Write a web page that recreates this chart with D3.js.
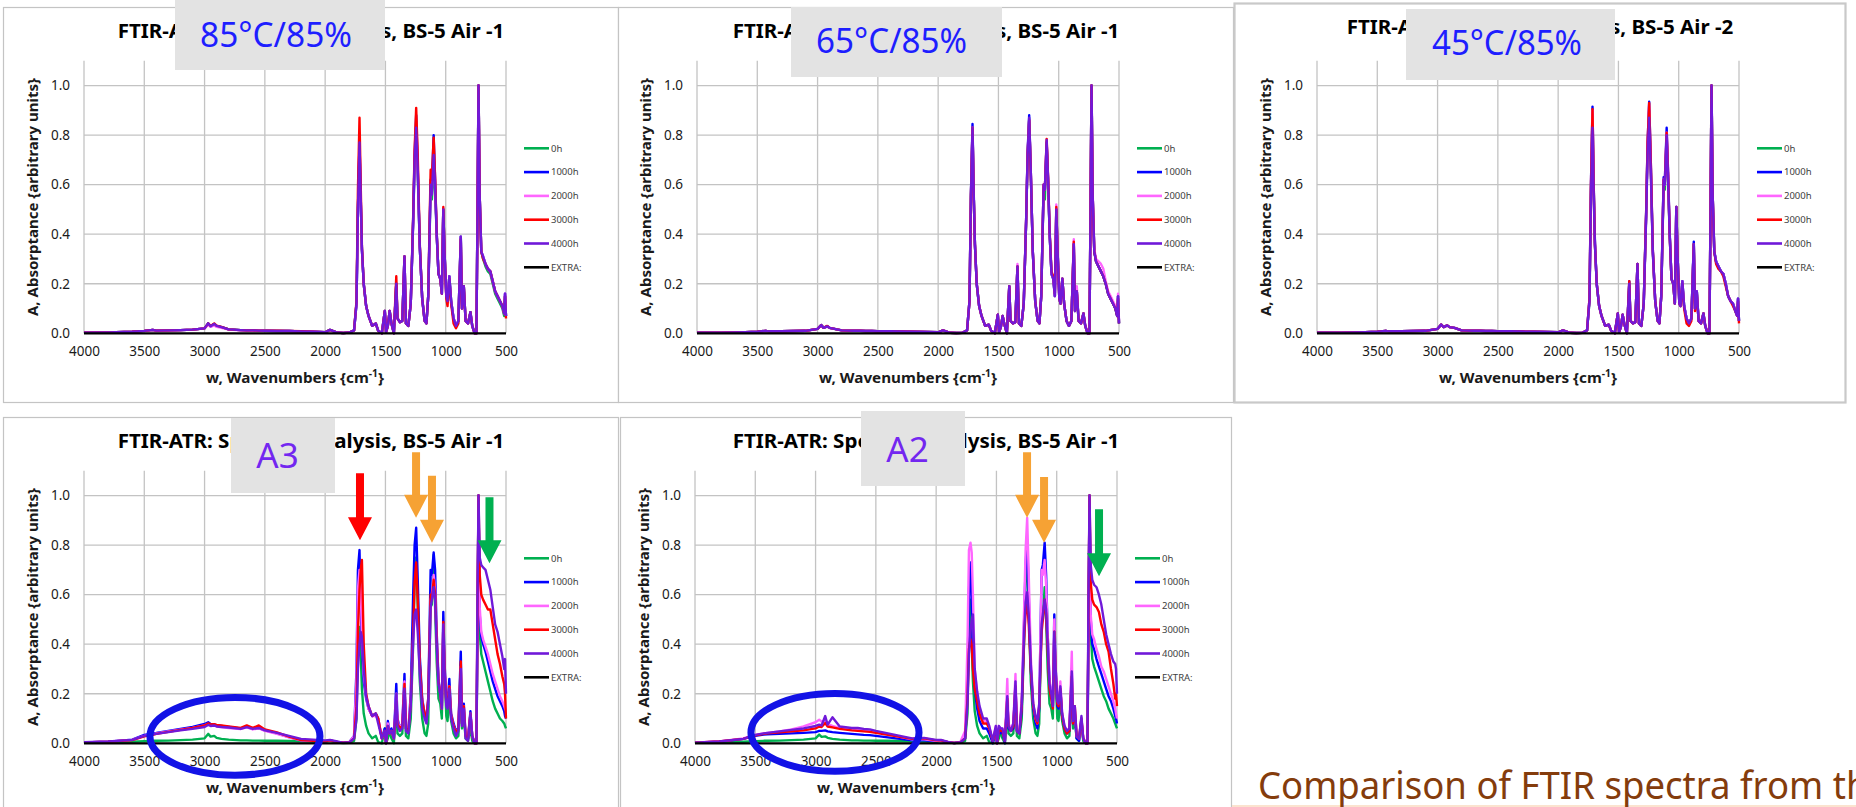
<!DOCTYPE html>
<html><head><meta charset="utf-8">
<script src="https://cdn.jsdelivr.net/npm/d3@7"></script>
<style>html,body{margin:0;padding:0;background:#fff;overflow:hidden}</style>
</head><body>
<svg id="c" width="1856" height="807"></svg>
<script>
// ---------------- DATA ----------------
const wavenumbers = [
4000,3800,3600,3500,3430,3400,3300,3200,3100,3000,2970,2950,2920,2900,2860,2800,2700,2650,2600,2550,2500,2400,2300,2200,2100,2000,1960,1900,1850,
1800,1760,1740,1728,1715,1705,1695,1680,1660,1640,1610,1580,1560,1530,1505,1495,1480,1465,1450,1430,
1410,1400,1380,1360,1342,1330,1310,1290,1270,1258,1245,1232,1215,1195,1175,1160,1145,1125,1115,1100,
1088,1075,1060,1045,1032,1020,1010,995,985,970,955,935,915,895,875,865,850,835,815,795,
780,760,745,737,728,718,705,690,670,650,630,610,590,570,550,530,515,508,500];

const seriesNames = ["0h","1000h","2000h","3000h","4000h"];
const extraName = "EXTRA:";
const extraValues = [0, 0];
const extraWavenumbers = [4000, 500];
const xTickValues = [4000,3500,3000,2500,2000,1500,1000,500];
const yTickValues = [0,0.2,0.4,0.6,0.8,1.0];

// 85°C/85%
const p85_0h = [0.002,0.003,0.006,0.010,0.014,0.011,0.012,0.013,0.015,0.020,0.040,0.028,0.038,0.030,0.025,0.016,0.013,0.012,0.012,0.011,0.010,0.009,0.009,0.007,0.006,0.004,0.014,0.003,0.001,
0.003,0.012,0.12,0.50,0.74,0.54,0.34,0.20,0.11,0.07,0.03,0.04,0.01,0.0,0.09,0.005,0.03,0.09,0.04,0.0,
0.20,0.06,0.045,0.05,0.31,0.04,0.03,0.12,0.45,0.68,0.80,0.64,0.35,0.14,0.05,0.04,0.15,0.58,0.54,0.66,
0.58,0.40,0.24,0.22,0.16,0.50,0.33,0.15,0.13,0.23,0.13,0.06,0.03,0.05,0.39,0.10,0.19,0.05,0.04,0.085,
0.03,0.0,0.0,0.45,1.0,0.55,0.33,0.30,0.27,0.25,0.24,0.20,0.16,0.14,0.12,0.10,0.07,0.15,0.07];
const p85_1000h = [0.002,0.003,0.006,0.010,0.014,0.011,0.012,0.013,0.015,0.020,0.040,0.028,0.038,0.030,0.025,0.016,0.013,0.012,0.012,0.011,0.010,0.009,0.009,0.007,0.006,0.004,0.014,0.003,0.001,
0.003,0.012,0.12,0.50,0.77,0.55,0.34,0.20,0.11,0.07,0.03,0.04,0.01,0.0,0.09,0.005,0.03,0.09,0.04,0.0,
0.20,0.06,0.045,0.05,0.31,0.04,0.03,0.12,0.46,0.72,0.88,0.67,0.35,0.14,0.05,0.04,0.15,0.62,0.60,0.80,
0.62,0.41,0.24,0.22,0.16,0.50,0.33,0.15,0.13,0.23,0.13,0.06,0.03,0.05,0.39,0.10,0.19,0.05,0.04,0.085,
0.03,0.0,0.0,0.45,1.0,0.55,0.33,0.31,0.28,0.26,0.25,0.21,0.17,0.15,0.13,0.11,0.08,0.16,0.07];
const p85_2000h = [0.002,0.003,0.006,0.010,0.014,0.011,0.012,0.013,0.015,0.020,0.034,0.026,0.032,0.026,0.022,0.015,0.012,0.012,0.011,0.011,0.010,0.009,0.009,0.007,0.006,0.004,0.013,0.003,0.001,
0.003,0.012,0.12,0.50,0.78,0.55,0.34,0.20,0.11,0.07,0.03,0.04,0.01,0.0,0.09,0.005,0.03,0.09,0.04,0.0,
0.20,0.06,0.045,0.05,0.31,0.04,0.03,0.12,0.45,0.70,0.85,0.66,0.35,0.14,0.05,0.04,0.15,0.60,0.57,0.74,
0.61,0.40,0.24,0.22,0.16,0.50,0.33,0.15,0.13,0.23,0.13,0.06,0.03,0.05,0.39,0.10,0.19,0.05,0.04,0.085,
0.03,0.0,0.0,0.45,1.0,0.55,0.33,0.31,0.28,0.26,0.25,0.21,0.17,0.15,0.13,0.11,0.08,0.16,0.07];
const p85_3000h = [0.002,0.003,0.006,0.010,0.014,0.011,0.012,0.013,0.015,0.020,0.040,0.030,0.040,0.031,0.026,0.016,0.013,0.012,0.012,0.011,0.011,0.010,0.009,0.008,0.006,0.004,0.014,0.003,0.001,
0.003,0.012,0.13,0.58,0.87,0.60,0.35,0.20,0.11,0.07,0.03,0.04,0.01,0.0,0.09,0.005,0.03,0.09,0.04,0.0,
0.23,0.06,0.045,0.05,0.31,0.04,0.03,0.12,0.47,0.74,0.91,0.72,0.36,0.14,0.05,0.04,0.15,0.66,0.62,0.79,
0.63,0.41,0.24,0.22,0.16,0.51,0.33,0.14,0.11,0.22,0.12,0.04,0.02,0.04,0.38,0.10,0.19,0.05,0.04,0.085,
0.03,0.0,0.0,0.45,1.0,0.55,0.33,0.30,0.28,0.26,0.25,0.21,0.17,0.15,0.13,0.11,0.08,0.15,0.06];
const p85_4000h = [0.002,0.003,0.006,0.010,0.014,0.011,0.012,0.013,0.015,0.020,0.040,0.028,0.038,0.030,0.025,0.016,0.013,0.012,0.012,0.011,0.010,0.009,0.009,0.007,0.006,0.004,0.014,0.003,0.001,
0.003,0.012,0.12,0.50,0.77,0.55,0.34,0.20,0.11,0.07,0.03,0.04,0.01,0.0,0.09,0.005,0.03,0.09,0.04,0.0,
0.20,0.06,0.045,0.05,0.31,0.04,0.03,0.12,0.45,0.70,0.83,0.66,0.35,0.14,0.05,0.04,0.15,0.60,0.56,0.72,
0.60,0.40,0.24,0.22,0.16,0.50,0.33,0.15,0.13,0.23,0.13,0.06,0.03,0.05,0.39,0.10,0.19,0.05,0.04,0.085,
0.03,0.0,0.0,0.45,1.0,0.55,0.33,0.31,0.28,0.26,0.25,0.21,0.17,0.15,0.13,0.11,0.08,0.16,0.07];

// 65°C/85%
const p65_0h = [0.002,0.002,0.004,0.006,0.010,0.008,0.008,0.009,0.010,0.018,0.033,0.022,0.028,0.022,0.018,0.012,0.010,0.010,0.009,0.009,0.008,0.008,0.007,0.006,0.005,0.004,0.012,0.002,0.001,
0.002,0.012,0.13,0.55,0.82,0.56,0.36,0.20,0.11,0.07,0.03,0.035,0.01,0.0,0.075,0.005,0.025,0.07,0.035,0.0,
0.19,0.05,0.04,0.045,0.27,0.04,0.03,0.12,0.45,0.71,0.86,0.65,0.33,0.13,0.05,0.04,0.15,0.58,0.54,0.76,
0.61,0.40,0.24,0.22,0.15,0.50,0.34,0.14,0.12,0.22,0.12,0.05,0.03,0.05,0.36,0.09,0.17,0.05,0.04,0.08,
0.03,0.0,0.0,0.45,1.0,0.55,0.33,0.29,0.27,0.25,0.23,0.20,0.16,0.14,0.12,0.10,0.07,0.15,0.04];
const p65_1000h = [0.002,0.002,0.004,0.006,0.010,0.008,0.008,0.009,0.010,0.018,0.033,0.022,0.028,0.022,0.018,0.012,0.010,0.010,0.009,0.009,0.008,0.008,0.007,0.006,0.005,0.004,0.012,0.002,0.001,
0.002,0.012,0.13,0.56,0.845,0.57,0.36,0.20,0.11,0.07,0.03,0.035,0.01,0.0,0.075,0.005,0.025,0.07,0.035,0.0,
0.19,0.05,0.04,0.045,0.27,0.04,0.03,0.12,0.46,0.73,0.88,0.66,0.33,0.13,0.05,0.04,0.15,0.60,0.58,0.77,
0.62,0.40,0.24,0.22,0.15,0.50,0.34,0.14,0.12,0.22,0.12,0.05,0.03,0.05,0.36,0.09,0.17,0.05,0.04,0.08,
0.03,0.0,0.0,0.45,1.0,0.55,0.33,0.29,0.27,0.25,0.23,0.20,0.16,0.14,0.12,0.10,0.07,0.15,0.04];
const p65_2000h = [0.002,0.002,0.004,0.006,0.010,0.008,0.008,0.009,0.010,0.018,0.033,0.022,0.028,0.022,0.018,0.012,0.010,0.010,0.009,0.009,0.008,0.008,0.007,0.006,0.005,0.004,0.012,0.002,0.001,
0.002,0.012,0.13,0.55,0.83,0.56,0.36,0.20,0.11,0.07,0.03,0.035,0.01,0.0,0.075,0.005,0.025,0.07,0.035,0.0,
0.19,0.05,0.04,0.045,0.28,0.04,0.03,0.12,0.46,0.72,0.86,0.66,0.33,0.13,0.05,0.04,0.15,0.60,0.58,0.77,
0.62,0.40,0.24,0.22,0.15,0.52,0.35,0.14,0.12,0.22,0.12,0.05,0.03,0.05,0.38,0.09,0.19,0.05,0.04,0.08,
0.03,0.0,0.0,0.45,1.0,0.56,0.34,0.30,0.29,0.28,0.26,0.21,0.17,0.15,0.13,0.11,0.08,0.16,0.05];
const p65_3000h = [0.002,0.002,0.004,0.006,0.010,0.008,0.008,0.009,0.010,0.018,0.033,0.022,0.030,0.022,0.018,0.012,0.010,0.010,0.009,0.009,0.008,0.008,0.007,0.006,0.005,0.004,0.012,0.002,0.001,
0.002,0.012,0.13,0.55,0.83,0.56,0.36,0.20,0.11,0.07,0.03,0.035,0.01,0.0,0.075,0.005,0.025,0.07,0.035,0.0,
0.19,0.05,0.04,0.045,0.27,0.04,0.03,0.12,0.46,0.72,0.86,0.66,0.33,0.13,0.05,0.04,0.15,0.60,0.58,0.785,
0.63,0.41,0.25,0.23,0.16,0.51,0.34,0.14,0.12,0.22,0.12,0.05,0.03,0.05,0.37,0.09,0.17,0.05,0.04,0.08,
0.03,0.0,0.0,0.45,1.0,0.55,0.33,0.29,0.27,0.25,0.23,0.20,0.16,0.14,0.12,0.10,0.07,0.14,0.04];
const p65_4000h = [0.002,0.002,0.004,0.006,0.010,0.008,0.008,0.009,0.010,0.018,0.033,0.022,0.028,0.022,0.018,0.012,0.010,0.010,0.009,0.009,0.008,0.008,0.007,0.006,0.005,0.004,0.012,0.002,0.001,
0.002,0.012,0.13,0.55,0.83,0.56,0.36,0.20,0.11,0.07,0.03,0.035,0.01,0.0,0.075,0.005,0.025,0.07,0.035,0.0,
0.19,0.05,0.04,0.045,0.27,0.04,0.03,0.12,0.46,0.72,0.87,0.66,0.33,0.13,0.05,0.04,0.15,0.60,0.58,0.78,
0.62,0.40,0.24,0.22,0.15,0.50,0.34,0.14,0.12,0.22,0.12,0.05,0.03,0.05,0.36,0.09,0.17,0.05,0.04,0.08,
0.03,0.0,0.0,0.45,1.0,0.55,0.33,0.29,0.27,0.25,0.23,0.20,0.16,0.14,0.12,0.10,0.07,0.15,0.04];

// 45°C/85%
const p45_0h = [0.002,0.002,0.004,0.006,0.010,0.008,0.008,0.009,0.010,0.018,0.035,0.025,0.032,0.025,0.022,0.012,0.010,0.010,0.009,0.009,0.008,0.008,0.007,0.006,0.005,0.004,0.012,0.002,0.001,
0.002,0.012,0.13,0.57,0.88,0.58,0.36,0.20,0.11,0.07,0.03,0.035,0.01,0.0,0.08,0.005,0.025,0.075,0.035,0.0,
0.20,0.05,0.04,0.045,0.28,0.04,0.03,0.12,0.48,0.75,0.90,0.68,0.33,0.13,0.05,0.04,0.15,0.60,0.58,0.78,
0.62,0.40,0.22,0.20,0.12,0.51,0.32,0.12,0.11,0.21,0.11,0.06,0.04,0.06,0.36,0.10,0.17,0.05,0.04,0.08,
0.03,0.0,0.0,0.45,1.0,0.55,0.33,0.29,0.27,0.25,0.24,0.20,0.15,0.13,0.12,0.09,0.07,0.14,0.05];
const p45_1000h = [0.002,0.002,0.004,0.006,0.010,0.008,0.008,0.009,0.010,0.018,0.035,0.025,0.032,0.025,0.022,0.012,0.010,0.010,0.009,0.009,0.008,0.008,0.007,0.006,0.005,0.004,0.012,0.002,0.001,
0.002,0.012,0.14,0.60,0.915,0.60,0.37,0.20,0.11,0.07,0.03,0.035,0.01,0.0,0.08,0.005,0.025,0.075,0.035,0.0,
0.21,0.05,0.04,0.045,0.28,0.04,0.03,0.12,0.49,0.77,0.935,0.70,0.34,0.13,0.05,0.04,0.15,0.63,0.62,0.83,
0.65,0.41,0.22,0.20,0.12,0.51,0.32,0.12,0.11,0.21,0.11,0.06,0.04,0.06,0.37,0.10,0.17,0.05,0.04,0.08,
0.03,0.0,0.0,0.45,1.0,0.55,0.33,0.29,0.27,0.25,0.24,0.20,0.15,0.13,0.12,0.09,0.07,0.14,0.05];
const p45_2000h = [0.002,0.002,0.004,0.006,0.010,0.008,0.008,0.009,0.010,0.018,0.035,0.025,0.032,0.025,0.022,0.012,0.010,0.010,0.009,0.009,0.008,0.008,0.007,0.006,0.005,0.004,0.012,0.002,0.001,
0.002,0.012,0.14,0.59,0.90,0.59,0.36,0.20,0.11,0.07,0.03,0.035,0.01,0.0,0.08,0.005,0.025,0.075,0.035,0.0,
0.20,0.05,0.04,0.045,0.28,0.04,0.03,0.12,0.48,0.76,0.92,0.69,0.33,0.13,0.05,0.04,0.15,0.62,0.60,0.81,
0.64,0.40,0.22,0.20,0.12,0.51,0.32,0.12,0.11,0.21,0.11,0.06,0.04,0.06,0.36,0.10,0.17,0.05,0.04,0.08,
0.03,0.0,0.0,0.45,1.0,0.55,0.33,0.29,0.27,0.25,0.24,0.20,0.15,0.13,0.12,0.09,0.07,0.14,0.05];
const p45_3000h = [0.002,0.002,0.004,0.006,0.010,0.008,0.008,0.009,0.010,0.018,0.035,0.025,0.032,0.025,0.022,0.012,0.010,0.010,0.009,0.009,0.008,0.008,0.007,0.006,0.005,0.004,0.012,0.002,0.001,
0.002,0.012,0.14,0.59,0.905,0.59,0.36,0.20,0.11,0.07,0.03,0.035,0.01,0.0,0.08,0.005,0.025,0.075,0.035,0.0,
0.21,0.05,0.04,0.045,0.28,0.04,0.03,0.12,0.49,0.77,0.93,0.70,0.34,0.13,0.05,0.04,0.15,0.62,0.61,0.81,
0.64,0.40,0.22,0.20,0.12,0.51,0.32,0.12,0.11,0.20,0.10,0.04,0.03,0.05,0.36,0.09,0.16,0.05,0.04,0.08,
0.03,0.0,0.0,0.45,1.0,0.55,0.33,0.28,0.26,0.25,0.23,0.19,0.15,0.13,0.11,0.09,0.07,0.13,0.04];
const p45_4000h = [0.002,0.002,0.004,0.006,0.010,0.008,0.008,0.009,0.010,0.018,0.035,0.025,0.032,0.025,0.022,0.012,0.010,0.010,0.009,0.009,0.008,0.008,0.007,0.006,0.005,0.004,0.012,0.002,0.001,
0.002,0.012,0.13,0.55,0.83,0.56,0.36,0.20,0.11,0.07,0.03,0.035,0.01,0.0,0.08,0.005,0.025,0.075,0.035,0.0,
0.20,0.05,0.04,0.045,0.28,0.04,0.03,0.12,0.47,0.73,0.87,0.66,0.33,0.13,0.05,0.04,0.15,0.62,0.60,0.80,
0.62,0.40,0.22,0.20,0.12,0.51,0.32,0.12,0.11,0.21,0.11,0.06,0.04,0.06,0.36,0.10,0.17,0.05,0.04,0.08,
0.03,0.0,0.0,0.45,1.0,0.55,0.33,0.29,0.27,0.25,0.24,0.20,0.15,0.13,0.12,0.09,0.07,0.14,0.05];

// A3
const a3_0h = [0.003,0.004,0.006,0.008,0.010,0.010,0.011,0.013,0.015,0.020,0.038,0.027,0.030,0.022,0.018,0.015,0.012,0.012,0.011,0.011,0.010,0.010,0.009,0.008,0.007,0.006,0.010,0.003,0.001,
0.002,0.01,0.10,0.38,0.47,0.36,0.22,0.12,0.07,0.04,0.02,0.03,0.005,0.0,0.06,0.0,0.02,0.05,0.02,0.0,
0.16,0.04,0.03,0.04,0.24,0.03,0.02,0.10,0.40,0.65,0.75,0.55,0.25,0.10,0.04,0.03,0.08,0.55,0.56,0.76,
0.55,0.33,0.18,0.16,0.10,0.45,0.28,0.11,0.09,0.19,0.09,0.04,0.02,0.03,0.20,0.06,0.11,0.02,0.01,0.06,
0.01,0.0,0.0,0.40,1.0,0.45,0.36,0.33,0.29,0.25,0.21,0.17,0.14,0.12,0.10,0.09,0.08,0.07,0.06];
const a3_1000h = [0.003,0.006,0.015,0.034,0.040,0.042,0.050,0.058,0.066,0.078,0.085,0.078,0.076,0.072,0.070,0.066,0.060,0.066,0.058,0.062,0.052,0.040,0.025,0.012,0.010,0.008,0.012,0.006,0.002,
0.004,0.03,0.30,0.70,0.78,0.55,0.40,0.25,0.18,0.14,0.11,0.12,0.10,0.02,0.06,0.0,0.09,0.04,0.06,0.02,
0.24,0.10,0.06,0.08,0.28,0.06,0.05,0.20,0.60,0.80,0.87,0.66,0.35,0.18,0.12,0.09,0.18,0.70,0.68,0.77,
0.70,0.45,0.26,0.20,0.15,0.53,0.33,0.17,0.16,0.26,0.12,0.08,0.05,0.06,0.37,0.08,0.16,0.03,0.02,0.13,
0.03,0.0,0.0,0.45,1.0,0.52,0.43,0.40,0.37,0.33,0.29,0.25,0.22,0.19,0.17,0.15,0.13,0.11,0.10];
const a3_2000h = [0.003,0.006,0.014,0.030,0.036,0.040,0.048,0.055,0.062,0.072,0.078,0.072,0.072,0.068,0.066,0.062,0.058,0.064,0.056,0.060,0.050,0.038,0.024,0.012,0.010,0.008,0.012,0.006,0.002,
0.004,0.03,0.26,0.62,0.70,0.62,0.45,0.28,0.19,0.14,0.11,0.11,0.10,0.02,0.05,0.0,0.08,0.04,0.05,0.02,
0.20,0.09,0.06,0.08,0.25,0.06,0.05,0.18,0.42,0.52,0.54,0.48,0.30,0.17,0.11,0.09,0.17,0.58,0.60,0.68,
0.62,0.42,0.25,0.20,0.14,0.48,0.31,0.16,0.15,0.23,0.11,0.07,0.04,0.06,0.31,0.08,0.15,0.03,0.02,0.12,
0.03,0.0,0.0,0.45,1.0,0.55,0.45,0.42,0.39,0.36,0.32,0.28,0.25,0.22,0.19,0.17,0.15,0.14,0.13];
const a3_3000h = [0.003,0.006,0.013,0.028,0.034,0.038,0.046,0.054,0.062,0.072,0.080,0.076,0.077,0.074,0.072,0.068,0.062,0.072,0.062,0.072,0.056,0.044,0.027,0.013,0.010,0.008,0.012,0.006,0.002,
0.004,0.02,0.15,0.45,0.62,0.70,0.74,0.40,0.20,0.15,0.11,0.12,0.10,0.02,0.05,0.0,0.07,0.04,0.05,0.02,
0.17,0.08,0.06,0.07,0.24,0.06,0.05,0.16,0.45,0.65,0.73,0.58,0.32,0.17,0.12,0.10,0.18,0.60,0.58,0.66,
0.60,0.42,0.25,0.20,0.14,0.49,0.31,0.16,0.15,0.23,0.11,0.07,0.04,0.06,0.33,0.08,0.15,0.03,0.02,0.12,
0.03,0.0,0.0,0.50,1.0,0.68,0.60,0.58,0.56,0.54,0.54,0.48,0.42,0.36,0.32,0.27,0.24,0.20,0.10];
const a3_4000h = [0.004,0.007,0.014,0.030,0.036,0.038,0.045,0.052,0.058,0.066,0.074,0.070,0.072,0.068,0.066,0.064,0.058,0.065,0.058,0.062,0.052,0.042,0.030,0.018,0.015,0.012,0.014,0.008,0.002,
0.004,0.02,0.10,0.30,0.40,0.45,0.43,0.30,0.19,0.15,0.11,0.12,0.08,0.02,0.05,0.0,0.07,0.04,0.05,0.02,
0.20,0.07,0.05,0.06,0.22,0.05,0.04,0.15,0.42,0.52,0.54,0.45,0.28,0.14,0.10,0.08,0.16,0.55,0.58,0.63,
0.58,0.40,0.24,0.20,0.14,0.48,0.30,0.15,0.14,0.22,0.10,0.06,0.03,0.05,0.30,0.07,0.14,0.02,0.01,0.12,
0.03,0.0,0.0,0.55,1.0,0.75,0.72,0.71,0.70,0.66,0.62,0.55,0.48,0.45,0.40,0.35,0.30,0.34,0.20];

// A2
const a2_0h = [0.002,0.004,0.006,0.008,0.010,0.010,0.011,0.013,0.015,0.020,0.035,0.026,0.028,0.022,0.018,0.015,0.012,0.012,0.011,0.011,0.010,0.010,0.009,0.008,0.007,0.006,0.010,0.003,0.001,
0.002,0.01,0.12,0.45,0.58,0.40,0.25,0.13,0.07,0.04,0.02,0.03,0.005,0.0,0.05,0.0,0.02,0.05,0.02,0.0,
0.15,0.04,0.03,0.04,0.22,0.03,0.02,0.10,0.42,0.66,0.76,0.55,0.25,0.10,0.04,0.03,0.08,0.52,0.50,0.63,
0.50,0.30,0.16,0.14,0.10,0.44,0.27,0.10,0.09,0.18,0.09,0.04,0.02,0.03,0.22,0.06,0.10,0.02,0.01,0.08,
0.01,0.0,0.0,0.40,1.0,0.45,0.34,0.31,0.28,0.25,0.22,0.19,0.17,0.14,0.12,0.10,0.08,0.07,0.06];
const a2_1000h = [0.002,0.006,0.018,0.030,0.035,0.036,0.038,0.040,0.042,0.045,0.050,0.050,0.052,0.048,0.045,0.042,0.038,0.036,0.034,0.033,0.030,0.024,0.018,0.012,0.012,0.008,0.010,0.004,0.001,
0.004,0.02,0.25,0.62,0.73,0.55,0.35,0.22,0.14,0.09,0.06,0.06,0.04,0.0,0.05,0.0,0.06,0.04,0.05,0.0,
0.18,0.06,0.05,0.06,0.24,0.05,0.04,0.14,0.50,0.72,0.82,0.60,0.30,0.14,0.08,0.06,0.14,0.70,0.72,0.81,
0.68,0.44,0.25,0.20,0.15,0.52,0.32,0.15,0.14,0.22,0.11,0.06,0.04,0.05,0.30,0.08,0.12,0.02,0.01,0.09,
0.02,0.0,0.0,0.45,1.0,0.50,0.40,0.38,0.34,0.31,0.28,0.25,0.22,0.19,0.17,0.14,0.11,0.10,0.08];
const a2_2000h = [0.002,0.008,0.020,0.034,0.040,0.042,0.048,0.056,0.068,0.085,0.095,0.088,0.090,0.078,0.070,0.062,0.058,0.055,0.052,0.050,0.046,0.036,0.026,0.016,0.016,0.010,0.012,0.005,0.001,
0.005,0.05,0.40,0.78,0.81,0.77,0.60,0.30,0.20,0.13,0.09,0.09,0.07,0.01,0.07,0.0,0.07,0.06,0.06,0.01,
0.26,0.08,0.06,0.08,0.28,0.06,0.05,0.18,0.55,0.78,0.91,0.68,0.35,0.16,0.10,0.08,0.16,0.70,0.68,0.74,
0.64,0.44,0.26,0.20,0.16,0.50,0.32,0.17,0.16,0.25,0.12,0.07,0.05,0.06,0.37,0.09,0.14,0.03,0.02,0.10,
0.02,0.0,0.0,0.45,1.0,0.52,0.44,0.42,0.38,0.35,0.31,0.29,0.26,0.23,0.20,0.17,0.14,0.12,0.10];
const a2_3000h = [0.002,0.007,0.018,0.032,0.038,0.040,0.044,0.048,0.052,0.060,0.068,0.066,0.082,0.068,0.064,0.058,0.052,0.050,0.048,0.046,0.042,0.034,0.026,0.018,0.020,0.012,0.012,0.005,0.001,
0.004,0.02,0.18,0.38,0.42,0.40,0.30,0.22,0.17,0.12,0.08,0.08,0.06,0.01,0.06,0.0,0.06,0.05,0.05,0.01,
0.18,0.07,0.05,0.07,0.23,0.05,0.04,0.15,0.42,0.53,0.57,0.48,0.30,0.15,0.10,0.08,0.15,0.45,0.50,0.58,
0.52,0.38,0.22,0.18,0.14,0.45,0.30,0.16,0.15,0.22,0.11,0.06,0.04,0.05,0.27,0.08,0.15,0.03,0.02,0.10,
0.02,0.0,0.0,0.50,1.0,0.65,0.58,0.56,0.55,0.53,0.48,0.45,0.40,0.37,0.30,0.24,0.18,0.20,0.15];
const a2_4000h = [0.002,0.007,0.018,0.034,0.040,0.042,0.048,0.054,0.060,0.070,0.075,0.072,0.110,0.075,0.105,0.068,0.062,0.062,0.058,0.056,0.050,0.040,0.030,0.020,0.022,0.014,0.014,0.006,0.001,
0.004,0.02,0.16,0.36,0.45,0.50,0.52,0.30,0.21,0.15,0.10,0.10,0.07,0.01,0.07,0.0,0.07,0.06,0.06,0.01,
0.19,0.07,0.05,0.08,0.25,0.05,0.04,0.16,0.45,0.57,0.61,0.52,0.32,0.16,0.11,0.09,0.16,0.48,0.52,0.58,
0.54,0.40,0.24,0.20,0.15,0.45,0.31,0.17,0.16,0.23,0.12,0.07,0.05,0.06,0.29,0.09,0.15,0.03,0.02,0.11,
0.02,0.0,0.0,0.55,1.0,0.72,0.66,0.64,0.63,0.60,0.56,0.50,0.44,0.40,0.36,0.33,0.32,0.30,0.20];

const panelTitles = ["FTIR-ATR: Spectral Analysis, BS-5 Air -1","FTIR-ATR: Spectral Analysis, BS-5 Air -1","FTIR-ATR: Spectral Analysis, BS-5 Air -2","FTIR-ATR: Spectral Analysis, BS-5 Air -1","FTIR-ATR: Spectral Analysis, BS-5 Air -1"];
const panelLabels = ["85°C/85%","65°C/85%","45°C/85%","A3","A2"];
const xAxisTitle = "w, Wavenumbers {cm";
const yAxisTitle = "A, Absorptance {arbitrary units}";
const captionText = "Comparison of FTIR spectra from the";

// annotation arrows: wavenumber, tip absorbance, top absorbance
const arrowsA3 = [{w:1711,tip:0.82,top:1.09,kind:"red"},{w:1246,tip:0.91,top:1.175,kind:"orange"},{w:1114,tip:0.81,top:1.08,kind:"orange"},{w:637,tip:0.727,top:0.993,kind:"green"}];
const arrowsA2 = [{w:1246,tip:0.91,top:1.175,kind:"orange"},{w:1105,tip:0.81,top:1.075,kind:"orange"},{w:649,tip:0.674,top:0.945,kind:"green"}];
// highlight ellipses: center wavenumber/absorbance, half-widths in data units
const ellipseA3 = {w:2748,a:0.028,rw:705,ra:0.157};
const ellipseA2 = {w:2839,a:0.044,rw:697,ra:0.157};

// ---------------- STYLE / LAYOUT ----------------
const seriesColors = ["#00B050","#0000FF","#FF66FF","#FF0000","#7019D9"];
const arrowColors = {red:"#FF0000",orange:"#F6A234",green:"#00B050"};
const FONT = "'Noto Sans','Open Sans','DejaVu Sans',sans-serif";

const panels = [
 {box:[3.5,7.5,615,395], plotL:84, plotR:506, y0:333.3, gray:[175,0,210,70], lab:[276,47], labSize:34, labW:152, labColor:"#1E1EFF", data:[p85_0h,p85_1000h,p85_2000h,p85_3000h,p85_4000h]},
 {box:[618.5,7.5,615,395], plotL:697, plotR:1119, y0:333.3, gray:[791,7,211,70], lab:[891.5,53], labSize:34, labW:151, labColor:"#1E1EFF", data:[p65_0h,p65_1000h,p65_2000h,p65_3000h,p65_4000h]},
 {box:[1234.5,3.5,611,399], plotL:1317, plotR:1739, y0:333.3, gray:[1406,9,209,71], lab:[1507,55], labSize:34, labW:150, labColor:"#1E1EFF", data:[p45_0h,p45_1000h,p45_2000h,p45_3000h,p45_4000h], thick:true},
 {box:[3.5,417.5,615,400], plotL:84, plotR:506, y0:743.3, gray:[231,418,104,75], lab:[277.5,468], labSize:35, labW:0, labColor:"#7327F0", data:[a3_0h,a3_1000h,a3_2000h,a3_3000h,a3_4000h], arrows:arrowsA3, ellipse:ellipseA3},
 {box:[620.5,417.5,611,400], plotL:695, plotR:1117, y0:743.3, gray:[861,411,104,75], lab:[907.5,462], labSize:35, labW:0, labColor:"#7327F0", data:[a2_0h,a2_1000h,a2_2000h,a2_3000h,a2_4000h], arrows:arrowsA2, ellipse:ellipseA2}
];

const svg = d3.select("#c");
svg.append("rect").attr("width",1856).attr("height",807).attr("fill","#fff");

function scaledText(g, str, x, y, size, weight, fill, target, rotate, anchor){
  const t = g.append("text").attr("font-family",FONT).attr("font-size",size)
    .attr("font-weight",weight).attr("fill",fill).attr("text-anchor",anchor||"middle").text(str);
  const w = t.node().getComputedTextLength();
  const s = target ? target / w : 1;
  t.attr("transform",`translate(${x},${y})`+(rotate?` rotate(${rotate})`:"")+` scale(${s},1)`);
  return t;
}

panels.forEach((p,pi) => {
  const g = svg.append("g");
  g.append("rect").attr("x",p.box[0]).attr("y",p.box[1]).attr("width",p.box[2]).attr("height",p.box[3])
    .attr("fill","#fff").attr("stroke", p.thick ? "#C9C9C9" : "#C4C4C4").attr("stroke-width", p.thick ? 2.2 : 1.2);

  const x = d3.scaleLinear().domain([4000,500]).range([p.plotL,p.plotR]);
  const y = d3.scaleLinear().domain([0,1.1]).range([p.y0, p.y0 - 272.5]);

  // gridlines
  g.append("g").selectAll("line").data(xTickValues).join("line")
    .attr("x1",d=>x(d)).attr("x2",d=>x(d)).attr("y1",y(1.1)).attr("y2",y(0))
    .attr("stroke","#C3C3C3").attr("stroke-width",1.3);
  g.append("g").selectAll("line").data(yTickValues).join("line")
    .attr("x1",x(4000)).attr("x2",x(500)).attr("y1",d=>y(d)).attr("y2",d=>y(d))
    .attr("stroke","#C3C3C3").attr("stroke-width",1.3);

  // axes
  const xa = g.append("g").attr("transform",`translate(0,${y(0)})`)
    .call(d3.axisBottom(x).tickValues(xTickValues).tickSize(0).tickPadding(13).tickFormat(d3.format("d")));
  xa.select(".domain").remove();
  xa.selectAll("text").attr("font-family",FONT).attr("font-size",13.5).attr("fill","#1a1a1a");
  const ya = g.append("g").attr("transform",`translate(${x(4000)},0)`)
    .call(d3.axisLeft(y).tickValues(yTickValues).tickSize(0).tickPadding(14).tickFormat(d3.format(".1f")));
  ya.select(".domain").remove();
  ya.selectAll("text").attr("font-family",FONT).attr("font-size",13.5).attr("fill","#1a1a1a");

  // series
  const line = d3.line().x((d,i)=>x(wavenumbers[i])).y(d=>y(d));
  p.data.forEach((vals,si) => {
    g.append("path").attr("d",line(vals)).attr("fill","none")
      .attr("stroke",seriesColors[si]).attr("stroke-width",2.4).attr("stroke-linejoin","round");
  });
  const extraLine = d3.line().x((d,i)=>x(extraWavenumbers[i])).y(d=>y(d));
  g.append("path").attr("d",extraLine(extraValues)).attr("stroke","#000").attr("stroke-width",2.2).attr("fill","none");

  // legend
  const legTop = p.y0 - 185;
  const names = seriesNames.concat([extraName]);
  const cols = seriesColors.concat(["#000"]);
  names.forEach((n,i) => {
    const yy = legTop + i*23.8;
    g.append("line").attr("x1",p.plotR+18).attr("x2",p.plotR+43).attr("y1",yy).attr("y2",yy)
      .attr("stroke",cols[i]).attr("stroke-width",2.6);
    g.append("text").attr("x",p.plotR+45).attr("y",yy).attr("dy","0.35em")
      .attr("font-family",FONT).attr("font-size",9.5).attr("fill","#404040").text(n);
  });

  // axis titles
  const xt = g.append("text").attr("font-family",FONT).attr("font-size",15).attr("font-weight","bold")
    .attr("fill","#1a1a1a").attr("text-anchor","middle");
  xt.append("tspan").text(xAxisTitle);
  xt.append("tspan").attr("font-size",10).attr("dy",-6).text("-1");
  xt.append("tspan").attr("dy",6).text("}");
  const xw = xt.node().getComputedTextLength();
  xt.attr("transform",`translate(${(p.plotL+p.plotR)/2},${p.y0+50}) scale(${178/xw},1)`);
  scaledText(g, yAxisTitle, p.plotL-46.5, (y(1.1)+y(0))/2, 15, "bold", "#1a1a1a", 238, -90);

  // chart title
  const cx = p.box[0] + p.box[2]/2;
  scaledText(g, panelTitles[pi], cx, p.box[1]+30.5, 20, "bold", "#000", 387);

  // gray label box
  g.append("rect").attr("x",p.gray[0]).attr("y",p.gray[1]).attr("width",p.gray[2]).attr("height",p.gray[3]).attr("fill","#E3E3E3");
  scaledText(g, panelLabels[pi], p.lab[0], p.lab[1], p.labSize, "normal", p.labColor, p.labW || 0);

  // arrows
  if (p.arrows) {
    p.arrows.forEach(a => {
      const ax = x(a.w), yt = y(a.top), yTip = y(a.tip), yh = yTip - 23, sw = 8, hw = 24;
      const pts = [[ax-sw/2,yt],[ax+sw/2,yt],[ax+sw/2,yh],[ax+hw/2,yh],[ax,yTip],[ax-hw/2,yh],[ax-sw/2,yh]];
      g.append("polygon").attr("points",pts.map(q=>q.join(",")).join(" ")).attr("fill",arrowColors[a.kind]);
    });
  }
  if (p.ellipse) {
    const e = p.ellipse;
    g.append("ellipse").attr("cx",x(e.w)).attr("cy",y(e.a))
      .attr("rx",Math.abs(x(e.w+e.rw)-x(e.w))).attr("ry",Math.abs(y(e.ra)-y(0)))
      .attr("fill","none").attr("stroke","#1212E6").attr("stroke-width",7);
  }
});

// caption (clipped at the right edge, as in the slide)
svg.append("line").attr("x1",1232).attr("x2",1856).attr("y1",806).attr("y2",806).attr("stroke","#FBE3CF").attr("stroke-width",2);
(function(){
  const tmp = svg.append("text").attr("font-family",FONT).attr("font-size",38).text("Comparison of FTIR spectra from t");
  const w = tmp.node().getComputedTextLength(); tmp.remove();
  svg.append("text").attr("font-family",FONT).attr("font-size",38).attr("fill","#843C0C")
    .attr("transform",`translate(1258,799) scale(${588/w},1)`).text(captionText);
})();
</script>
</body></html>
